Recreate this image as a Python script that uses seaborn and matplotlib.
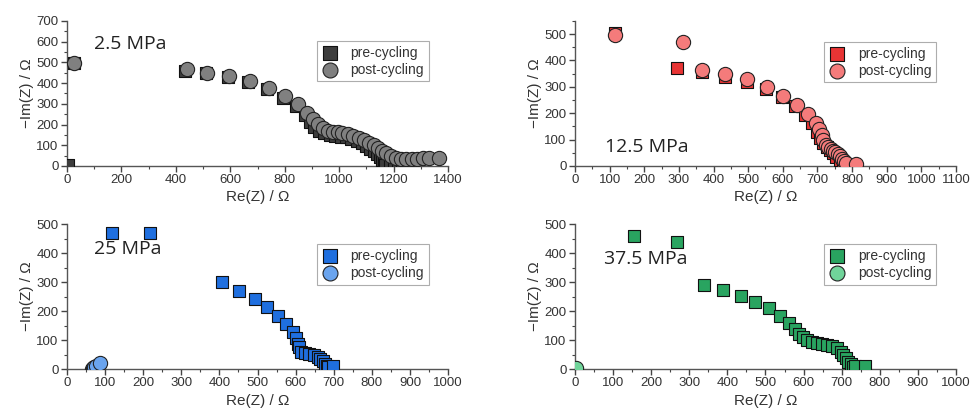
import matplotlib
matplotlib.use("Agg")
import matplotlib.pyplot as plt
from matplotlib.ticker import MultipleLocator, AutoMinorLocator
import seaborn as sns
import pandas as pd

# 2.5 MPa
p1_pre_x = [3, 25, 432, 512, 592, 666, 736, 795, 843, 873, 893, 908, 925, 945, 965, 985, 1005, 1025,
            1045, 1065, 1085, 1100, 1115, 1128, 1140, 1150, 1158, 1164, 1170, 1185, 1200, 1215, 1232, 1250]
p1_pre_y = [5, 495, 460, 447, 428, 404, 370, 330, 288, 248, 213, 188, 170, 158, 150, 146, 142, 138,
            132, 122, 110, 97, 84, 70, 56, 42, 28, 16, 5, 8, 12, 16, 20, 24]
p1_post_x = [25, 440, 516, 595, 672, 742, 801, 850, 883, 905, 923, 941, 958, 976, 994, 1012, 1031, 1052,
             1074, 1092, 1110, 1128, 1144, 1158, 1173, 1189, 1207, 1226, 1244, 1266, 1287, 1308, 1330, 1365]
p1_post_y = [495, 466, 451, 433, 409, 376, 338, 298, 257, 225, 202, 182, 171, 166, 163, 161, 154, 146,
             136, 125, 112, 100, 87, 74, 61, 48, 37, 32, 32, 32, 35, 37, 38, 38]

# 12.5 MPa
p2_pre_x = [115, 296, 367, 434, 496, 551, 597, 635, 664, 683, 698, 707, 717, 727, 736, 746, 755, 765, 775, 780]
p2_pre_y = [505, 372, 357, 338, 319, 293, 263, 227, 193, 162, 130, 105, 86, 73, 61, 48, 35, 23, 10, 2]
p2_post_x = [115, 311, 366, 434, 496, 553, 601, 642, 674, 696, 705, 712, 717, 725, 731, 738, 745, 752,
             759, 765, 771, 777, 783, 811]
p2_post_y = [497, 470, 364, 348, 328, 300, 266, 231, 197, 164, 139, 117, 98, 80, 70, 64, 58, 52,
             45, 37, 28, 19, 10, 6]

# 25 MPa
p3_pre_x = [118, 217, 406, 452, 493, 526, 553, 575, 592, 601, 605, 608, 613, 625, 636, 648, 658, 665,
            671, 676, 681, 686, 698]
p3_pre_y = [468, 470, 299, 270, 241, 213, 184, 155, 129, 106, 86, 75, 60, 54, 52, 48, 42, 34,
            26, 18, 11, 6, 9]
p3_post_x = [65, 68, 72, 77, 86]
p3_post_y = [1, 3, 6, 10, 21]

# 37.5 MPa
p4_pre_x = [155, 269, 339, 389, 435, 473, 510, 538, 563, 578, 589, 598, 608, 621, 634, 648, 661, 674,
            687, 697, 704, 711, 717, 724, 730, 735, 761]
p4_pre_y = [459, 439, 289, 273, 253, 231, 209, 183, 157, 137, 121, 109, 101, 94, 90, 86, 83, 78,
            71, 60, 48, 37, 25, 17, 8, 11, 10]
p4_post_x = [2]
p4_post_y = [3]

panel_labels = ["2.5 MPa", "12.5 MPa", "25 MPa", "37.5 MPa"]
series_labels = ["pre-cycling", "post-cycling"]
pre_colors = ["#3d3d3d", "#e83434", "#1f6fdf", "#29a460"]
post_colors = ["#808080", "#f47b7b", "#6aa4ee", "#70d49a"]

sns.set_theme(style="ticks")
plt.rcParams["font.family"] = ["Liberation Sans", "DejaVu Sans"]

fig = plt.figure(figsize=(9.77, 4.19), dpi=100)
rects = [
    [0.0686, 0.604, 0.390, 0.346],
    [0.5885, 0.604, 0.390, 0.346],
    [0.0686, 0.1193, 0.390, 0.346],
    [0.5885, 0.1193, 0.390, 0.346],
]
data = [
    (p1_pre_x, p1_pre_y, p1_post_x, p1_post_y),
    (p2_pre_x, p2_pre_y, p2_post_x, p2_post_y),
    (p3_pre_x, p3_pre_y, p3_post_x, p3_post_y),
    (p4_pre_x, p4_pre_y, p4_post_x, p4_post_y),
]
xlims = [(0, 1400), (0, 1100), (0, 1000), (0, 1000)]
ylims = [(0, 700), (0, 550), (0, 500), (0, 500)]
xmajor = [200, 100, 100, 100]
label_pos = [(0.071, 0.84), (0.079, 0.131), (0.071, 0.828), (0.076, 0.759)]
legend_anchor = [(0.968, 0.91), (0.966, 0.903), (0.968, 0.91), (0.966, 0.91)]

for i in range(4):
    ax = fig.add_axes(rects[i])
    prx, pry, pox, poy = data[i]
    pre = pd.DataFrame({"x": prx, "y": pry})
    post = pd.DataFrame({"x": pox, "y": poy})
    sns.scatterplot(data=pre, x="x", y="y", ax=ax, marker="s", s=80, color=pre_colors[i],
                    edgecolor="#111111", linewidth=0.8, label=series_labels[0], zorder=3)
    sns.scatterplot(data=post, x="x", y="y", ax=ax, marker="o", s=105, color=post_colors[i],
                    edgecolor="#222222", linewidth=0.8, label=series_labels[1], zorder=4)
    ax.set_xlim(*xlims[i])
    ax.set_ylim(*ylims[i])
    ax.xaxis.set_major_locator(MultipleLocator(xmajor[i]))
    ax.xaxis.set_minor_locator(AutoMinorLocator(2))
    ax.yaxis.set_major_locator(MultipleLocator(100))
    ax.yaxis.set_minor_locator(AutoMinorLocator(2))
    ax.tick_params(which="major", direction="out", length=4, width=1, labelsize=9.5,
                   colors="#444444", labelcolor="#333333", pad=2)
    ax.tick_params(which="minor", direction="out", length=2.5, width=0.8, colors="#444444")
    sns.despine(ax=ax)
    for sp in ["left", "bottom"]:
        ax.spines[sp].set_color("#555555")
        ax.spines[sp].set_linewidth(1.0)
    ax.set_xlabel("Re(Z) / Ω", fontsize=11, color="#333333", labelpad=3)
    ax.set_ylabel("\u2212Im(Z) / Ω", fontsize=11, color="#333333", labelpad=2)
    ax.text(label_pos[i][0], label_pos[i][1], panel_labels[i], transform=ax.transAxes,
            fontsize=14, family=["Open Sans", "DejaVu Sans"], color="#222222", va="center", ha="left")
    leg = ax.legend(loc="upper right", bbox_to_anchor=legend_anchor[i], fontsize=10,
                    frameon=True, fancybox=False, handletextpad=0.9, labelspacing=0.2,
                    borderpad=0.35, handlelength=1.2, markerscale=1.05)
    leg.get_frame().set_edgecolor("#999999")
    leg.get_frame().set_linewidth(0.8)
    for t in leg.get_texts():
        t.set_color("#333333")

fig.savefig("out.png", dpi=100, facecolor="white")
